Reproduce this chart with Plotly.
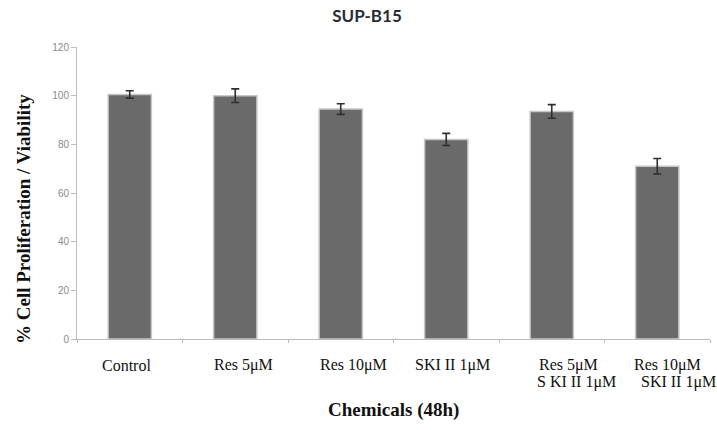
import plotly.graph_objects as go

# Treatments, mean viability (%) and standard error after 48 h
categories = ["Control", "Res 5μM", "Res 10μM", "SKI II 1μM",
              "Res 5μM<br>S KI II 1μM", "Res 10μM<br>SKI II 1μM"]
viability = [100.5, 100.0, 94.5, 82.0, 93.5, 71.0]
errors = [1.5, 2.8, 2.2, 2.5, 2.8, 3.2]
y_ticks = [0, 20, 40, 60, 80, 100, 120]

# label placement: (anchor, pixel shift for each line)
label_pos = [("center", [-3]), ("center", [8]), ("center", [13]),
             ("center", [6]), ("left", [-15, -17]), ("left", [-25, -18])]

fig = go.Figure()
fig.add_trace(go.Bar(
    x=categories,
    y=viability,
    width=0.41,
    marker=dict(color="#6a6a6a", line=dict(color="#c6c6c6", width=1.5)),
    error_y=dict(type="data", array=errors, visible=True,
                 color="#2e2e2e", thickness=1.6, width=4),
    showlegend=False,
))

annotations = []
for cat, (anchor, shifts) in zip(categories, label_pos):
    for i, (line, dx) in enumerate(zip(cat.split("<br>"), shifts)):
        annotations.append(dict(
            x=cat, xref="x", y=0, yref="paper",
            text=line, showarrow=False,
            xanchor=anchor, xshift=dx,
            yanchor="middle", yshift=-26 - 17 * i,
            font=dict(family="Liberation Serif", size=16, color="#111111"),
        ))

annotations.append(dict(
    x=0.5, xref="paper", y=0, yref="paper", yshift=-71,
    text="<b>Chemicals (48h)</b>", showarrow=False,
    xanchor="center", yanchor="middle",
    font=dict(family="Liberation Serif", size=19, color="#111111"),
))
annotations.append(dict(
    x=-0.0837, xref="paper", y=0.411, yref="paper",
    text="<b>% Cell Proliferation / Viability</b>", showarrow=False,
    textangle=-90, xanchor="center", yanchor="middle",
    font=dict(family="Liberation Serif", size=19, color="#111111"),
))

fig.update_layout(
    width=717, height=430,
    margin=dict(l=77, r=7, t=47, b=91),
    paper_bgcolor="white", plot_bgcolor="white",
    title=dict(text="<b>SUP-B15</b>", xref="container", x=367 / 717,
               y=1 - 16 / 430, xanchor="center", yanchor="middle",
               font=dict(family="Lato", size=17, color="#2b2b33")),
    annotations=annotations,
    xaxis=dict(
        type="category", range=[-0.5, 5.5], showticklabels=False,
        showline=True, linecolor="#bcbcbc", linewidth=1,
        ticks="outside", tickson="boundaries", ticklen=3, tickcolor="#bcbcbc",
        showgrid=False, zeroline=False,
    ),
    yaxis=dict(
        range=[0, 120], tickvals=y_ticks, showline=True,
        linecolor="#bcbcbc", linewidth=1, ticks="outside", ticklen=5,
        tickcolor="#bcbcbc", showgrid=False, zeroline=False,
        tickfont=dict(family="Liberation Sans", size=10, color="#8a8a8a"),
    ),
)

fig.write_html("out.html")
